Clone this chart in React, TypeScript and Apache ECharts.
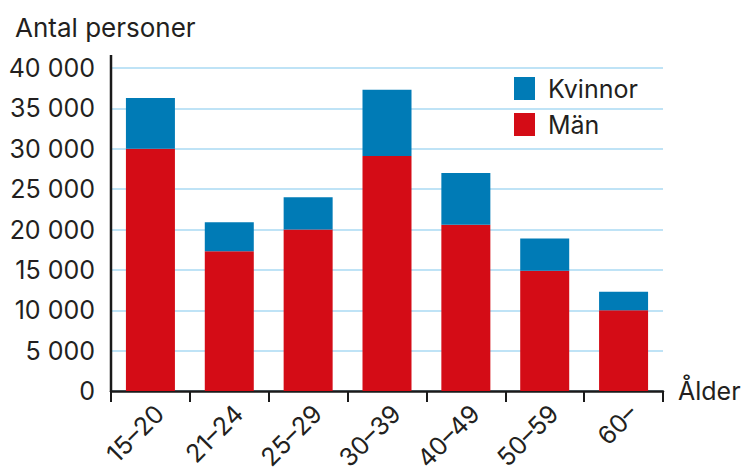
import React, { useEffect, useRef } from "react";
import * as echarts from "echarts";

const categories = ["15–20", "21–24", "25–29", "30–39", "40–49", "50–59", "60–"];
const menValues = [30000, 17300, 20000, 29100, 20600, 14900, 10000];
const womenValues = [6300, 3600, 4000, 8200, 6400, 4000, 2300];
const yTicks = [0, 5000, 10000, 15000, 20000, 25000, 30000, 35000, 40000];

const FONT = "Inter";
const TEXT = "#231f20";

function fmt(v: number) {
  const s = String(v);
  return s.length > 3 ? s.slice(0, -3) + " " + s.slice(-3) : s;
}

export default function App() {
  const ref = useRef<HTMLDivElement>(null);
  useEffect(() => {
    if (!ref.current) return;
    const chart = echarts.init(ref.current, undefined, { renderer: "svg" });
    chart.setOption({
      animation: false,
      textStyle: { fontFamily: FONT },
      title: {
        text: "Antal personer",
        left: 10,
        top: 9,
        textStyle: { fontFamily: FONT, fontSize: 26, fontWeight: "normal", color: TEXT },
      },
      legend: {
        orient: "vertical",
        left: 509,
        top: 71,
        itemWidth: 21,
        itemHeight: 23,
        itemGap: 11,
        icon: "rect",
        data: ["Kvinnor", "Män"],
        textStyle: { fontFamily: FONT, fontSize: 25, color: TEXT, padding: [0, 0, 0, 8] },
      },
      grid: { left: 111, right: 86, top: 68, bottom: 84, containLabel: false, outerBoundsMode: "none" },
      xAxis: {
        type: "category",
        data: categories,
        name: "Ålder",
        nameLocation: "end",
        nameGap: 15,
        nameTextStyle: { fontFamily: FONT, fontSize: 25, color: TEXT, verticalAlign: "middle" },
        axisLine: { lineStyle: { color: "#1a1a1a", width: 2.5 } },
        axisTick: { show: true, length: 11, lineStyle: { color: "#1a1a1a", width: 2 } },
        axisLabel: {
          rotate: 45,
          fontFamily: FONT,
          fontSize: 25,
          lineHeight: 26,
          verticalAlign: "top",
          color: TEXT,
          margin: 9,
        },
      },
      yAxis: {
        type: "value",
        min: 0,
        max: 40000,
        interval: 5000,
        axisLine: { show: false },
        axisTick: { show: false },
        splitLine: { lineStyle: { color: "#bfe3f6", width: 2 } },
        axisLabel: {
          fontFamily: FONT,
          fontSize: 25,
          color: TEXT,
          margin: 16,
          formatter: (v: number) => (yTicks.includes(v) ? fmt(v) : ""),
        },
      },
      graphic: [
        {
          type: "line",
          shape: { x1: 111, y1: 55, x2: 111, y2: 392 },
          style: { stroke: "#1a1a1a", lineWidth: 2.5 },
          z: 10,
        },
      ],
      series: [
        {
          name: "Män",
          type: "bar",
          stack: "total",
          data: menValues,
          barWidth: 49,
          itemStyle: { color: "#d40c16" },
        },
        {
          name: "Kvinnor",
          type: "bar",
          stack: "total",
          data: womenValues,
          barWidth: 49,
          itemStyle: { color: "#007bb6" },
        },
      ],
    });
    return () => chart.dispose();
  }, []);
  return <div ref={ref} style={{ width: 749, height: 475, position: "absolute", left: 0, top: 0, background: "#fff" }} />;
}
